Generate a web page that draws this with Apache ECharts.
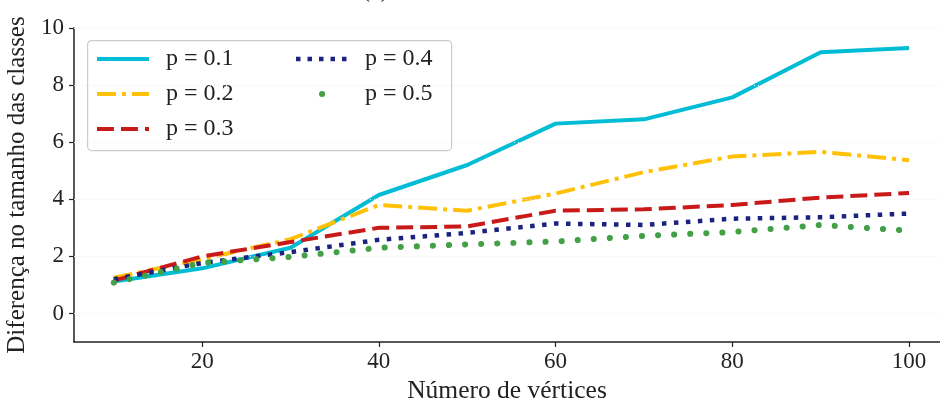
<!DOCTYPE html>
<html>
<head>
<meta charset="utf-8">
<script src="https://cdn.jsdelivr.net/npm/echarts@6/dist/echarts.min.js"></script>
<style>html,body{margin:0;padding:0;background:#fff}#c{width:940px;height:403px}</style>
</head>
<body>
<div id="c"></div>
<script>
const vertices = [10, 20, 30, 40, 50, 60, 70, 80, 90, 100];
const p01 = [1.12, 1.58, 2.3, 4.15, 5.2, 6.65, 6.8, 7.57, 9.15, 9.3];
const p02 = [1.25, 1.9, 2.6, 3.8, 3.6, 4.2, 4.95, 5.5, 5.66, 5.37];
const p03 = [1.15, 2.0, 2.5, 3.0, 3.05, 3.6, 3.65, 3.8, 4.06, 4.22];
const p04 = [1.2, 1.77, 2.15, 2.58, 2.82, 3.15, 3.1, 3.32, 3.37, 3.5];
const p05 = [1.08, 1.77, 1.98, 2.3, 2.42, 2.52, 2.72, 2.85, 3.1, 2.9];
const seriesNames = ['p = 0.1', 'p = 0.2', 'p = 0.3', 'p = 0.4', 'p = 0.5'];
const xTicks = [20, 40, 60, 80, 100];
const yTicks = [0, 2, 4, 6, 8, 10];
const xTitle = 'Número de vértices';
const yTitle = 'Diferença no tamanho das classes';
const panelTitle = '(a)';

const FONT = 'Liberation Serif';
const chart = echarts.init(document.getElementById('c'));
function pairs(ys) { return vertices.map((x, i) => [x, ys[i]]); }
const styles = [
  { color: '#00BCD4', width: 4, type: 'solid', cap: 'butt' },
  { color: '#FFC107', width: 4, type: [19, 6, 4, 6], cap: 'butt' },
  { color: '#C91A1A', width: 4, type: [17, 7], cap: 'butt' },
  { color: '#1A237E', width: 4.5, type: [4.5, 7.5], cap: 'butt' },
  { color: '#43A047', width: 6, type: [0.1, 16], cap: 'round' }
];
const allData = [p01, p02, p03, p04, p05];
const series = allData.map((d, i) => ({
  name: seriesNames[i],
  type: 'line',
  data: pairs(d),
  symbol: 'none',
  showSymbol: false,
  color: styles[i].color,
  lineStyle: { color: styles[i].color, width: styles[i].width, type: styles[i].type, cap: styles[i].cap, join: 'round' },
  z: 3 + i,
  animation: false
}));
series[0].markLine = {
  silent: true, symbol: 'none', animation: false,
  label: { show: false },
  lineStyle: { color: '#e6e6e6', width: 1, type: [1, 3] },
  data: yTicks.map(v => ({ yAxis: v }))
};

const legendCommon = {
  orient: 'vertical',
  itemWidth: 52,
  itemHeight: 14,
  itemGap: 11,
  itemStyle: { opacity: 0 },
  lineStyle: { width: 'inherit' },
  textStyle: { fontFamily: FONT, fontSize: 24, color: '#222', padding: [0, 0, 0, 12] },
  padding: 0
};
const legendData2 = [
  { name: seriesNames[3], lineStyle: { width: 4.5, type: [4.5, 7], dashOffset: 0 } },
  { name: seriesNames[4], lineStyle: { width: 6, type: [0.1, 100], dashOffset: 74.1, cap: 'round' } }
];

chart.setOption({
  animation: false,
  backgroundColor: '#fff',
  title: {
    text: panelTitle, left: 357, top: -26,
    textStyle: { fontFamily: FONT, fontSize: 24, fontWeight: 'normal', color: '#222' }
  },
  grid: { left: 74, right: 0, top: 28, bottom: 61, containLabel: false, outerBoundsMode: 'none' },
  xAxis: {
    type: 'value', min: 5.5, max: 103.5,
    name: xTitle, nameLocation: 'middle', nameGap: 36,
    nameTextStyle: { fontFamily: FONT, fontSize: 25.5, color: '#222' },
    axisLine: { show: true, onZero: false, lineStyle: { color: '#222', width: 1.5 } },
    axisTick: { show: true, customValues: xTicks, length: 5, inside: false, lineStyle: { color: '#222', width: 1.2 } },
    axisLabel: { customValues: xTicks, fontFamily: FONT, fontSize: 23, color: '#222', margin: 8 },
    splitLine: { show: false }
  },
  yAxis: {
    type: 'value', min: -1, max: 10,
    name: yTitle, nameLocation: 'middle', nameGap: 44, nameRotate: 90,
    nameTextStyle: { fontFamily: FONT, fontSize: 25, color: '#222' },
    axisLine: { show: true, onZero: false, lineStyle: { color: '#222', width: 1.5 } },
    axisTick: { show: true, customValues: yTicks, length: 5, lineStyle: { color: '#222', width: 1.2 } },
    axisLabel: { customValues: yTicks, fontFamily: FONT, fontSize: 23, color: '#222', margin: 10 },
    splitLine: { show: false }
  },
  legend: [
    Object.assign({}, legendCommon, { left: 95, top: 47, data: seriesNames.slice(0, 3) }),
    Object.assign({}, legendCommon, { left: 293, top: 47, data: legendData2 })
  ],
  graphic: [{
    type: 'rect', left: 87, top: 40, z: 0,
    shape: { width: 364, height: 110, r: 4 },
    style: { fill: 'rgba(255,255,255,0.85)', stroke: '#cccccc', lineWidth: 1.2 }
  }],
  series: series
});
</script>
</body>
</html>
